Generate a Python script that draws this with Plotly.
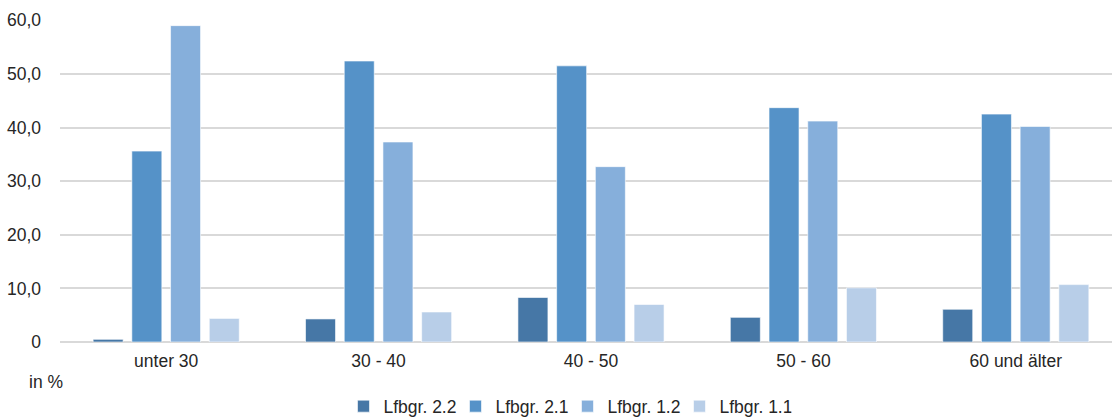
import plotly.graph_objects as go

categories = ["unter 30", "30 - 40", "40 - 50", "50 - 60", "60 und älter"]
series_names = ["Lfbgr. 2.2", "Lfbgr. 2.1", "Lfbgr. 1.2", "Lfbgr. 1.1"]
lfbgr_22 = [0.5, 4.3, 8.3, 4.6, 6.1]
lfbgr_21 = [35.6, 52.4, 51.5, 43.7, 42.5]
lfbgr_12 = [59.0, 37.3, 32.7, 41.2, 40.2]
lfbgr_11 = [4.4, 5.6, 7.0, 10.1, 10.7]
series_values = [lfbgr_22, lfbgr_21, lfbgr_12, lfbgr_11]
colors = ["#4677A6", "#5592C8", "#86AFDB", "#B8CEE8"]
y_tickvals = [0, 10, 20, 30, 40, 50, 60]
y_ticktext = ["0", "10,0", "20,0", "30,0", "40,0", "50,0", "60,0"]

font_family = "Liberation Sans, Arial, sans-serif"
text_color = "#262626"
fs = 17.5

fig = go.Figure()
for name, vals, col in zip(series_names, series_values, colors):
    fig.add_trace(go.Bar(
        x=categories, y=vals, name=name,
        marker=dict(color=col, line=dict(color="rgba(255,255,255,0.6)", width=1)),
    ))

plot_w = 1112 - 60
plot_h = 418 - 20 - 76

fig.update_layout(
    width=1112, height=418,
    margin=dict(l=60, r=0, t=20, b=76, autoexpand=False),
    paper_bgcolor="white", plot_bgcolor="white",
    barmode="group", bargap=0.271, bargroupgap=0.225,
    font=dict(family=font_family, size=fs, color=text_color),
    showlegend=True,
    legend=dict(orientation="h", x=0.4824, xanchor="center", y=-0.1437, yanchor="top",
                font=dict(size=fs, color=text_color), itemwidth=30,
                entrywidth=67, entrywidthmode="pixels",
                traceorder="normal"),
    xaxis=dict(range=[-0.5, 4.453], showgrid=False, showline=False, zeroline=False,
               ticks="", ticklabelstandoff=6, tickfont=dict(size=fs, color=text_color)),
    yaxis=dict(range=[0, 60.05], tickvals=y_tickvals, ticktext=y_ticktext,
               showgrid=True, gridcolor="#D9D9D9", gridwidth=1.5,
               zeroline=True, zerolinecolor="#D9D9D9", zerolinewidth=1.5,
               showline=False, ticks="", ticklabelstandoff=18,
               tickfont=dict(size=fs, color=text_color)),
    annotations=[dict(text="in %", x=(46 - 60) / plot_w, y=(342 - 382) / plot_h,
                      xref="paper", yref="paper", xanchor="center", yanchor="middle",
                      showarrow=False, font=dict(size=fs, color=text_color))],
)

fig.write_html("out.html", config={"displayModeBar": False},
               post_script="document.body.style.margin='0';")
